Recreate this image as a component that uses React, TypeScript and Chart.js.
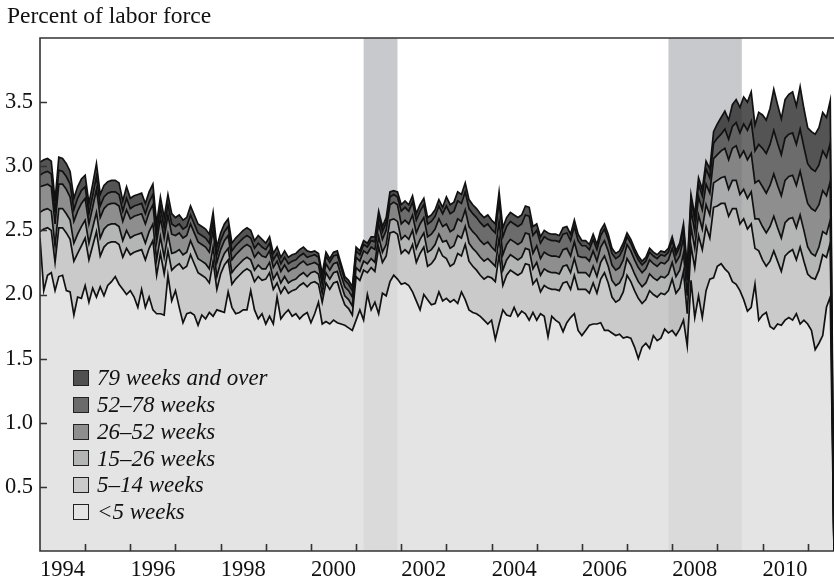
import React, { useEffect, useRef } from 'react';
import { Chart, registerables } from 'chart.js';

Chart.register(...registerables);

// Monthly values, Jan 1994 – Jul 2011, plus a final Aug 2011 entry (percent of labor force)
const yearLabels = ['1994','1995','1996','1997','1998','1999','2000','2001','2002','2003','2004','2005','2006','2007','2008','2009','2010','2011'];
const labeledYears = ['1994','1996','1998','2000','2002','2004','2006','2008','2010'];
const yTickValues = [0, 0.5, 1.0, 1.5, 2.0, 2.5, 3.0, 3.5, 4.0];

const under5 = [
  2.44,2.03,2.15,2.17,2.03,2.14,2.15,2.03,2.02,1.84,1.98,1.97,
  2.07,1.94,2.05,1.98,2.06,1.99,2.07,2.10,2.14,2.08,2.04,2.00,
  2.03,1.98,1.90,2.04,1.90,1.98,1.88,1.85,1.85,1.84,2.15,1.95,
  2.03,1.90,1.78,1.85,1.86,1.84,1.76,1.84,1.81,1.86,1.83,1.88,
  1.87,1.86,2.02,1.90,1.85,1.86,1.88,1.88,2.03,1.88,1.81,1.85,
  1.77,1.83,1.77,1.98,1.81,1.85,1.88,1.83,1.85,1.81,1.84,1.86,
  1.78,1.85,1.94,1.77,1.79,1.77,1.80,1.78,1.77,1.76,1.74,1.72,
  1.80,1.88,1.80,2.00,1.88,1.94,1.85,2.01,1.99,2.10,2.15,2.12,
  2.08,2.09,2.07,2.02,1.95,1.88,2.00,1.96,1.92,1.93,2.02,1.95,
  1.97,1.94,1.96,1.93,2.02,1.96,1.88,1.86,1.85,1.83,1.80,1.77,
  1.80,1.65,1.77,1.88,1.84,1.83,1.90,1.83,1.87,1.85,1.80,1.86,
  1.80,1.85,1.83,1.67,1.83,1.80,1.78,1.71,1.78,1.82,1.85,1.72,
  1.68,1.72,1.76,1.77,1.77,1.78,1.72,1.72,1.70,1.68,1.69,1.66,
  1.67,1.66,1.59,1.50,1.59,1.62,1.58,1.68,1.64,1.66,1.73,1.70,
  1.72,1.68,1.73,1.80,1.60,2.11,1.82,1.99,1.82,2.03,2.12,2.13,
  2.22,2.24,2.20,2.17,2.10,2.08,2.03,1.96,1.87,1.90,2.08,1.80,
  1.84,1.86,1.75,1.73,1.77,1.76,1.80,1.82,1.80,1.85,1.77,1.80,
  1.77,1.72,1.57,1.62,1.68,1.90,1.98,0,
];

const weeks5to14 = [
  .05,.48,.37,.33,.22,.38,.37,.45,.41,.42,.34,.41,
  .37,.33,.33,.51,.24,.38,.33,.31,.27,.31,.25,.36,
  .28,.35,.44,.31,.37,.38,.54,.30,.47,.32,.19,.24,
  .19,.34,.42,.37,.45,.40,.41,.31,.32,.23,.43,.16,
  .29,.37,.25,.18,.27,.29,.30,.32,.15,.22,.33,.26,
  .35,.34,.27,.11,.20,.21,.13,.20,.19,.26,.25,.20,
  .31,.25,.14,.17,.30,.27,.29,.32,.23,.16,.15,.12,
  .34,.23,.39,.17,.33,.24,.52,.24,.31,.38,.34,.35,
  .24,.26,.25,.37,.30,.44,.37,.26,.32,.35,.34,.35,
  .31,.28,.28,.39,.28,.43,.38,.36,.34,.32,.32,.37,
  .33,.45,.54,.19,.31,.36,.27,.32,.30,.39,.43,.22,
  .32,.17,.24,.38,.21,.24,.25,.38,.32,.22,.30,.32,
  .36,.32,.25,.32,.24,.34,.45,.37,.28,.26,.27,.36,
  .48,.44,.44,.47,.34,.34,.45,.32,.34,.35,.27,.33,
  .40,.33,.32,.38,.25,.27,.39,.47,.53,.50,.32,.55,
  .47,.47,.51,.44,.57,.59,.52,.63,.64,.65,.28,.54,
  .43,.36,.51,.61,.49,.42,.50,.51,.55,.42,.60,.46,
  .39,.41,.55,.57,.63,.39,.42,0,
];

const weeks15to26 = [
  .15,.15,.15,.15,.13,.15,.15,.15,.15,.14,.15,.15,
  .14,.13,.14,.15,.14,.14,.14,.14,.14,.14,.13,.14,
  .13,.13,.13,.13,.13,.13,.13,.12,.13,.13,.13,.13,
  .11,.11,.11,.11,.11,.11,.11,.11,.11,.11,.11,.10,
  .09,.09,.09,.09,.09,.09,.09,.09,.09,.09,.09,.09,
  .08,.08,.08,.08,.08,.08,.08,.08,.08,.08,.08,.08,
  .08,.08,.08,.07,.08,.08,.08,.08,.08,.07,.07,.07,
  .07,.07,.07,.07,.07,.07,.08,.08,.09,.10,.10,.10,
  .11,.11,.11,.11,.11,.11,.11,.11,.11,.11,.11,.11,
  .14,.14,.14,.14,.14,.14,.14,.14,.14,.14,.14,.14,
  .12,.12,.13,.12,.12,.12,.12,.12,.12,.12,.12,.12,
  .13,.13,.13,.13,.13,.13,.13,.13,.13,.13,.13,.13,
  .13,.13,.13,.13,.13,.13,.13,.13,.13,.13,.13,.13,
  .13,.13,.13,.13,.13,.13,.13,.13,.13,.13,.13,.13,
  .13,.13,.14,.14,.14,.15,.15,.16,.16,.17,.18,.19,
  .20,.20,.21,.21,.22,.22,.23,.23,.24,.25,.23,.25,
  .26,.26,.27,.27,.26,.26,.26,.26,.25,.25,.25,.24,
  .21,.19,.18,.18,.18,.18,.18,0,
];

const weeks26to52 = [
  .20,.19,.19,.19,.17,.19,.19,.19,.18,.17,.18,.18,
  .17,.15,.16,.18,.16,.16,.16,.16,.16,.16,.15,.16,
  .15,.15,.15,.15,.15,.15,.15,.14,.15,.15,.15,.15,
  .13,.13,.13,.13,.13,.13,.13,.13,.13,.13,.13,.11,
  .10,.10,.10,.10,.10,.10,.10,.10,.10,.10,.10,.10,
  .09,.09,.09,.09,.09,.09,.09,.09,.09,.09,.09,.09,
  .07,.07,.07,.07,.07,.07,.07,.07,.07,.07,.07,.07,
  .08,.08,.08,.08,.09,.10,.10,.10,.11,.12,.13,.13,
  .12,.12,.12,.12,.12,.12,.12,.12,.12,.12,.12,.12,
  .13,.13,.13,.13,.13,.13,.13,.13,.13,.13,.13,.13,
  .12,.12,.13,.12,.12,.12,.12,.12,.12,.12,.12,.12,
  .13,.13,.13,.13,.13,.13,.13,.13,.13,.13,.13,.13,
  .12,.12,.12,.12,.12,.12,.12,.12,.12,.12,.12,.12,
  .11,.11,.11,.11,.11,.11,.11,.11,.11,.11,.11,.11,
  .11,.11,.11,.12,.12,.13,.13,.14,.15,.16,.17,.19,
  .20,.21,.22,.23,.25,.27,.29,.30,.30,.30,.28,.30,
  .31,.31,.32,.33,.33,.33,.33,.33,.33,.33,.34,.33,
  .34,.35,.35,.33,.32,.30,.30,0,
];

const weeks52to78 = [
  .09,.10,.10,.10,.09,.11,.10,.10,.10,.09,.10,.10,
  .09,.08,.09,.10,.09,.09,.09,.09,.09,.09,.08,.09,
  .08,.08,.08,.08,.08,.08,.08,.07,.08,.08,.08,.08,
  .07,.07,.07,.07,.07,.07,.07,.07,.07,.07,.07,.06,
  .07,.07,.07,.07,.07,.07,.07,.07,.07,.07,.07,.07,
  .06,.06,.06,.06,.06,.06,.06,.06,.06,.06,.06,.06,
  .06,.06,.06,.05,.06,.06,.06,.06,.06,.05,.05,.05,
  .05,.05,.05,.05,.05,.06,.06,.06,.06,.06,.06,.06,
  .10,.10,.10,.10,.10,.10,.10,.10,.10,.10,.10,.10,
  .14,.14,.14,.14,.14,.14,.14,.14,.14,.14,.14,.14,
  .14,.14,.15,.14,.14,.14,.14,.14,.14,.14,.14,.14,
  .12,.12,.12,.12,.12,.12,.12,.12,.12,.12,.12,.12,
  .09,.09,.09,.09,.09,.09,.09,.09,.09,.09,.09,.09,
  .06,.06,.06,.06,.06,.06,.06,.06,.06,.06,.06,.06,
  .06,.06,.07,.07,.07,.08,.09,.10,.11,.12,.12,.12,
  .13,.13,.15,.16,.17,.18,.19,.21,.23,.25,.25,.28,
  .30,.31,.32,.34,.33,.32,.33,.33,.33,.32,.33,.32,
  .31,.31,.31,.31,.31,.30,.30,0,
];

const weeks79plus = [
  .10,.10,.10,.10,.09,.10,.10,.10,.10,.09,.09,.09,
  .09,.08,.09,.10,.09,.09,.09,.09,.09,.09,.08,.09,
  .08,.08,.08,.08,.08,.08,.08,.07,.08,.08,.08,.08,
  .07,.07,.07,.07,.07,.07,.07,.07,.07,.07,.07,.06,
  .06,.06,.06,.06,.06,.06,.06,.06,.06,.06,.06,.06,
  .05,.05,.05,.05,.05,.05,.05,.05,.05,.05,.05,.05,
  .03,.03,.03,.03,.03,.03,.03,.03,.03,.03,.03,.03,
  .03,.03,.03,.03,.03,.04,.04,.04,.04,.04,.03,.04,
  .05,.05,.05,.05,.05,.05,.05,.05,.05,.05,.05,.05,
  .07,.07,.07,.07,.07,.07,.07,.07,.07,.07,.07,.07,
  .07,.07,.08,.07,.07,.07,.07,.07,.07,.07,.07,.07,
  .05,.05,.05,.05,.05,.05,.05,.05,.05,.05,.05,.05,
  .04,.04,.04,.04,.04,.04,.04,.04,.04,.04,.04,.04,
  .03,.03,.03,.03,.03,.03,.03,.03,.03,.03,.03,.03,
  .03,.03,.03,.04,.03,.04,.04,.05,.05,.06,.07,.09,
  .11,.13,.14,.15,.17,.18,.20,.21,.22,.23,.20,.25,
  .26,.26,.28,.32,.30,.28,.30,.31,.32,.30,.33,.30,
  .28,.29,.29,.29,.30,.31,.33,0,
];

// Recessions as [first month index, month index after last month] (Mar–Nov 2001, Dec 2007–Jun 2009)
const recessions = [[86, 95], [167, 186.5]];

const seriesNames = ['<5 weeks', '5–14 weeks', '15–26 weeks', '26–52 weeks', '52–78 weeks', '79 weeks and over'];
const seriesValues = [under5, weeks5to14, weeks15to26, weeks26to52, weeks52to78, weeks79plus];
const fillColors = [
  'rgba(222,222,222,0.82)',
  'rgba(190,190,190,0.82)',
  'rgba(163,165,165,0.82)',
  'rgba(117,117,117,0.82)',
  'rgba(76,76,76,0.82)',
  'rgba(46,46,46,0.82)',
];
const legendColors = ['#e4e4e4', '#cacaca', '#b3b4b4', '#8e8e8e', '#6b6b6b', '#505050'];

const FONT = "'Liberation Serif', 'Times New Roman', serif";
const W = 834;
const H = 583;
const LEFT = 40;
const TOP = 38;
const AXIS_H = 32;
const X_MAX = 211;

const frame = {
  id: 'frame',
  beforeDraw(chart: any) {
    const { ctx, chartArea: a, scales } = chart;
    const x = scales.x;
    ctx.save();
    ctx.fillStyle = '#c8c9cc';
    recessions.forEach(([s, e]) => {
      const x1 = x.getPixelForValue(s);
      const x2 = x.getPixelForValue(e);
      ctx.fillRect(x1, a.top, x2 - x1, a.bottom - a.top);
    });
    ctx.restore();
  },
  afterDraw(chart: any) {
    const { ctx, chartArea: a, scales } = chart;
    const x = scales.x;
    const y = scales.y;
    ctx.save();
    ctx.strokeStyle = '#333';
    ctx.lineWidth = 1.6;
    ctx.beginPath();
    ctx.moveTo(a.right, a.top);
    ctx.lineTo(a.left, a.top);
    ctx.lineTo(a.left, a.bottom);
    ctx.lineTo(a.right, a.bottom);
    ctx.stroke();
    ctx.beginPath();
    yearLabels.forEach((_, i) => {
      if (i === 0) return;
      const px = Math.round(x.getPixelForValue(i * 12)) + 0.5;
      ctx.moveTo(px, a.bottom);
      ctx.lineTo(px, a.bottom - 7);
    });
    yTickValues.forEach((v) => {
      if (v === 0 || v === 4) return;
      const py = Math.round(y.getPixelForValue(v)) + 0.5;
      ctx.moveTo(a.left, py);
      ctx.lineTo(a.left + 7, py);
    });
    ctx.stroke();
    ctx.restore();
  },
};

export default function App() {
  const ref = useRef<HTMLCanvasElement | null>(null);

  useEffect(() => {
    if (!ref.current) return;
    const pxPerYear = ((W - LEFT) / X_MAX) * 12;
    const chart = new Chart(ref.current, {
      type: 'line',
      data: {
        datasets: seriesValues.map((vals, i) => ({
          label: seriesNames[i],
          data: vals.map((v, j) => ({ x: j, y: v })),
          backgroundColor: fillColors[i],
          borderColor: '#111',
          borderWidth: 1.7,
          pointRadius: 0,
          tension: 0,
          fill: i === 0 ? 'origin' : '-1',
        })),
      },
      options: {
        animation: false,
        responsive: false,
        maintainAspectRatio: false,
        layout: { padding: { top: TOP, left: 0, right: 0, bottom: 0 } },
        plugins: {
          legend: { display: false },
          tooltip: { enabled: false },
          filler: { drawTime: 'beforeDatasetsDraw' },
        },
        scales: {
          x: {
            type: 'linear',
            min: 0,
            max: X_MAX,
            afterBuildTicks: (s: any) => {
              s.ticks = yearLabels.map((_, i) => ({ value: i * 12 }));
            },
            afterFit: (s: any) => {
              s.height = AXIS_H;
            },
            grid: { display: false, drawTicks: false },
            border: { display: false },
            ticks: {
              autoSkip: false,
              maxRotation: 0,
              minRotation: 0,
              labelOffset: pxPerYear / 2,
              padding: 6,
              color: '#111',
              font: { family: FONT, size: 22.5 },
              callback: (_v: any, i: number) => (labeledYears.includes(yearLabels[i]) ? yearLabels[i] : ''),
            },
          },
          y: {
            stacked: true,
            min: 0,
            max: 4,
            afterBuildTicks: (s: any) => {
              s.ticks = yTickValues.map((v) => ({ value: v }));
            },
            afterFit: (s: any) => {
              s.width = LEFT;
            },
            grid: { display: false, drawTicks: false },
            border: { display: false },
            ticks: {
              padding: 7,
              color: '#111',
              font: { family: FONT, size: 22.5 },
              callback: (v: any) => (v === 0 || v === 4 ? '' : Number(v).toFixed(1)),
            },
          },
        },
      },
      plugins: [frame],
    } as any);
    return () => chart.destroy();
  }, []);

  const legendOrder = [5, 4, 3, 2, 1, 0];

  return (
    <div style={{ position: 'absolute', left: 0, top: 0, width: W, height: H, background: '#fff' }}>
      <canvas ref={ref} width={W} height={H} style={{ position: 'absolute', left: 0, top: 0 }} />
      <div
        style={{
          position: 'absolute',
          left: 7,
          top: 4,
          fontFamily: FONT,
          fontSize: 23.5,
          lineHeight: '23.5px',
          color: '#111',
          whiteSpace: 'nowrap',
        }}
      >
        Percent of labor force
      </div>
      {legendOrder.map((si, row) => {
        const cy = 378 + row * 26.8;
        return (
          <React.Fragment key={si}>
            <div
              style={{
                position: 'absolute',
                left: 73,
                top: cy - 8,
                width: 16,
                height: 16,
                boxSizing: 'border-box',
                border: '1.5px solid #222',
                background: legendColors[si],
              }}
            />
            <div
              style={{
                position: 'absolute',
                left: 97,
                top: cy - 11.8,
                fontFamily: FONT,
                fontStyle: 'italic',
                fontSize: 23,
                lineHeight: '23px',
                color: '#111',
                whiteSpace: 'nowrap',
              }}
            >
              {seriesNames[si]}
            </div>
          </React.Fragment>
        );
      })}
    </div>
  );
}
